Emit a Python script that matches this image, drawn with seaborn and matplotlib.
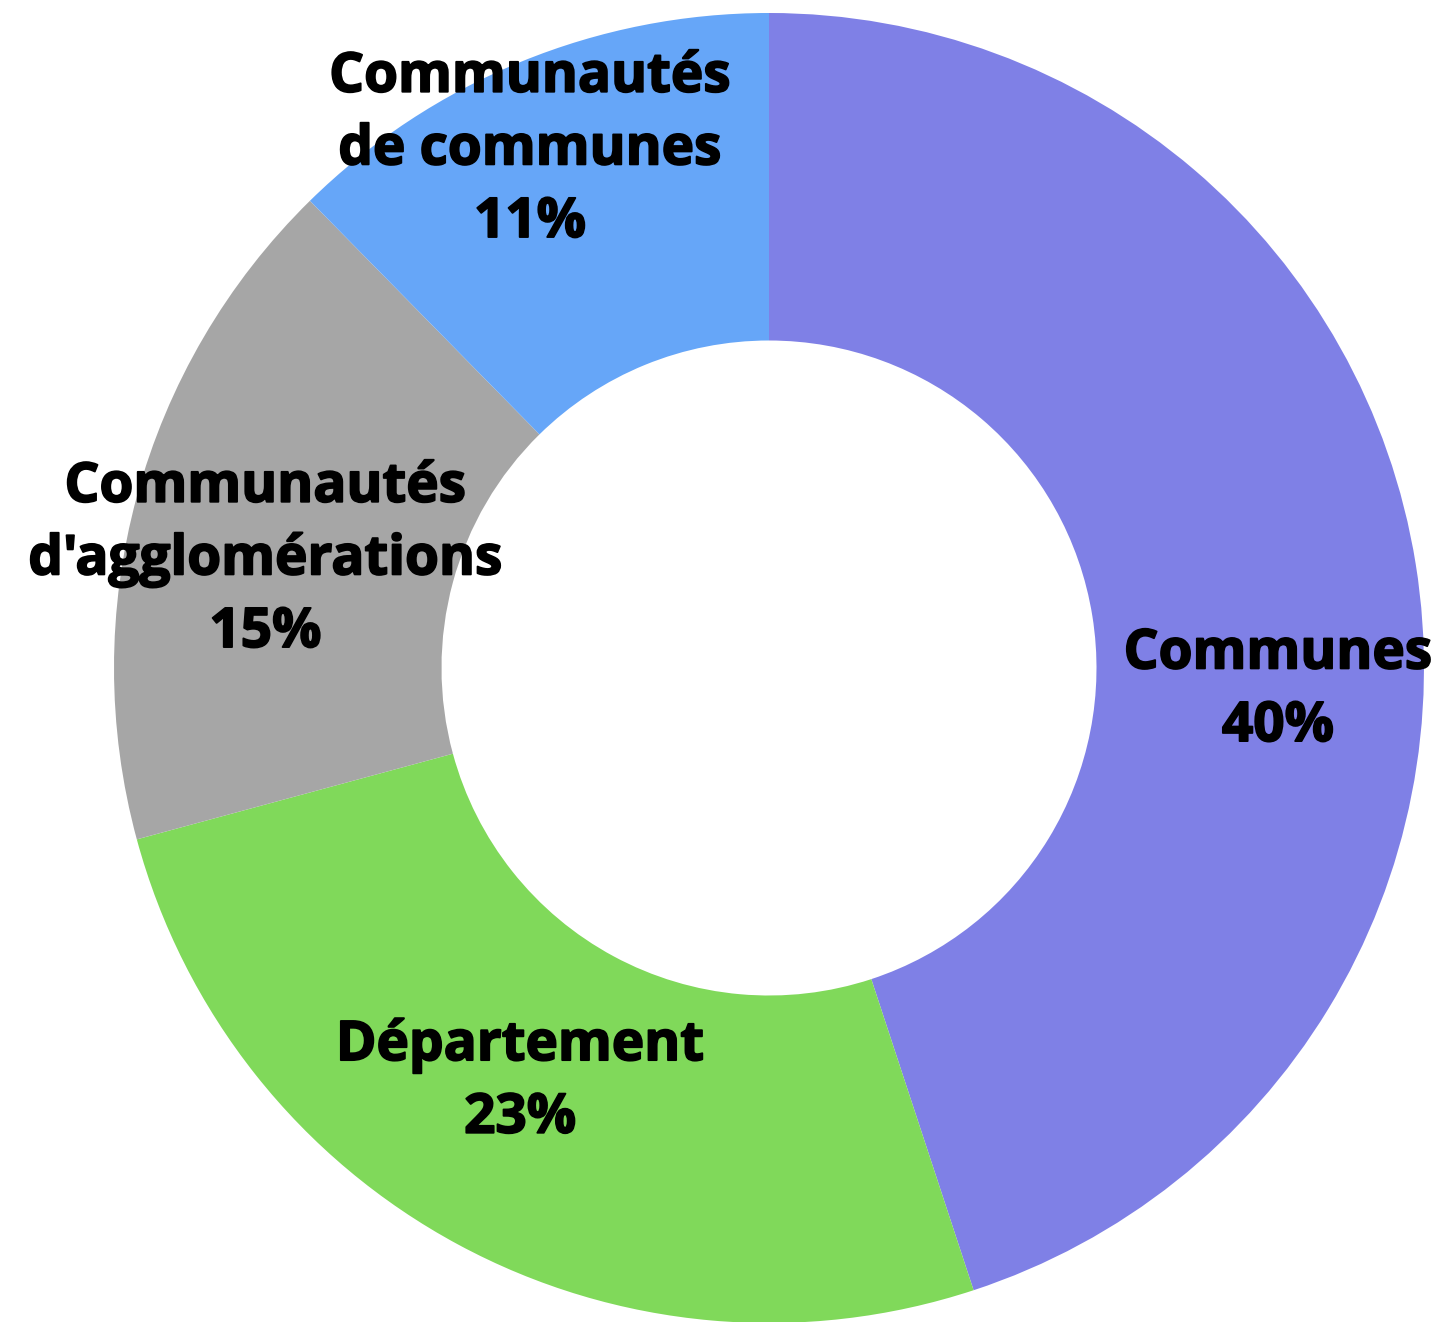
import numpy as np
import pandas as pd
import matplotlib.pyplot as plt
import matplotlib.patheffects as pe
import seaborn as sns

# Data
categories = ['Communes', 'Département', "Communautés\nd'agglomérations", 'Communautés\nde communes']
shares = [40, 23, 15, 11]
colors = ['#7F80E6', '#80D95A', '#A6A6A6', '#66A6F8']

# label anchors (data coords, centre of donut = 0,0)
label_pos = [(0.777, -0.034), (-0.380, -0.632), (-0.769, 0.165), (-0.365, 0.791)]

sns.set_theme(style='white')
plt.rcParams['font.family'] = ['Open Sans', 'DejaVu Sans']

df = pd.DataFrame({'cat': categories, 'share': shares})

fig = plt.figure(figsize=(14.37, 13.22), dpi=100)
ax = fig.add_axes([0, 0, 1, 1])

ax.pie(df['share'], colors=colors, startangle=90, counterclock=False,
       radius=1, wedgeprops=dict(width=0.5, linewidth=0))

# Labels - a thin stroke to mimic the extra-bold face
for (x, y), cat, s in zip(label_pos, df['cat'], df['share']):
    ax.text(x, y, f'{cat}\n{s}%', ha='center', va='center', fontsize=39.5,
            fontweight='bold', color='black', linespacing=1.42,
            path_effects=[pe.withStroke(linewidth=1.3, foreground='black')])

# centre at pixel (769, 668), radius 655 px
r = 655
ax.set_xlim(-769 / r, (1437 - 769) / r)
ax.set_ylim(-(1322 - 668) / r, 668 / r)
ax.set_aspect('auto')
ax.axis('off')

fig.savefig('out.png', dpi=100, facecolor='white')
